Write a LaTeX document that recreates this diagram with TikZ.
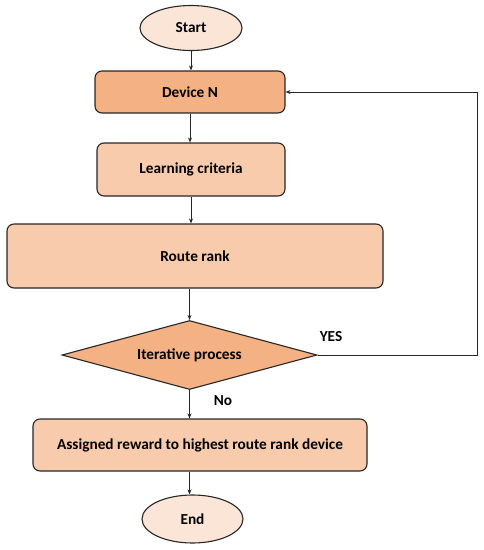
\documentclass[tikz,border=0pt]{standalone}
\usepackage{fontspec}
\setmainfont{Carlito}
\usetikzlibrary{shapes.geometric,arrows.meta}
\definecolor{lightfill}{HTML}{FBE5D6}
\definecolor{midfill}{HTML}{F8CBAD}
\definecolor{darkfill}{HTML}{F4B183}
\definecolor{edgecol}{HTML}{262626}
\tikzset{
  base/.style={draw=edgecol, line width=1.1pt, font=\fontsize{15.3}{17}\selectfont\bfseries, text=black, inner sep=0pt},
  terminal/.style={base, ellipse, fill=lightfill},
  procbox/.style={base, rectangle, rounded corners=7pt, fill=midfill},
  decision/.style={base, diamond, fill=darkfill},
  link/.style={draw=edgecol, line width=1pt, -{Stealth[length=5pt,width=4pt]}},
  lbl/.style={font=\fontsize{15.3}{17}\selectfont\bfseries, inner sep=0pt}
}
\begin{document}
\begin{tikzpicture}[x=1pt,y=-1pt]
\useasboundingbox (0,0) rectangle (483,550);
\node[terminal, minimum width=102pt, minimum height=45pt] (start) at (191,28) {Start};
\node[procbox, fill=darkfill, minimum width=190pt, minimum height=42pt] (dev) at (190,92) {Device N};
\node[procbox, minimum width=188pt, minimum height=53pt] (learn) at (191,169.5) {Learning criteria};
\node[procbox, minimum width=376pt, minimum height=64pt] (rank) at (195,256) {Route rank};
\node[decision, minimum width=255pt, minimum height=69pt, aspect=3.7] (iter) at (189.5,355) {Iterative process};
\node[procbox, minimum width=334pt, minimum height=52pt] (assign) at (200,445) {Assigned reward to highest route rank device};
\node[terminal, minimum width=101pt, minimum height=48pt] (stop) at (192.5,519) {End};
\coordinate (c1) at (477,355);
\coordinate (c2) at (477,92);
\draw[link] (start.south) -- (start.south |- dev.north);
\draw[link] (dev.south) -- (dev.south |- learn.north);
\draw[link] (learn.south) -- (learn.south |- rank.north);
\draw[link] (iter.north |- rank.south) -- (iter.north);
\draw[link] (iter.south) -- (iter.south |- assign.north);
\draw[link] (iter.south |- assign.south) -- (stop.north -| iter.south);
\draw[link] (iter.east) -- (c1) -- (c2) -- (dev.east);
\node[lbl] (yes) at (331,337) {YES};
\node[lbl] (no) at (223,401) {No};
\end{tikzpicture}
\end{document}
